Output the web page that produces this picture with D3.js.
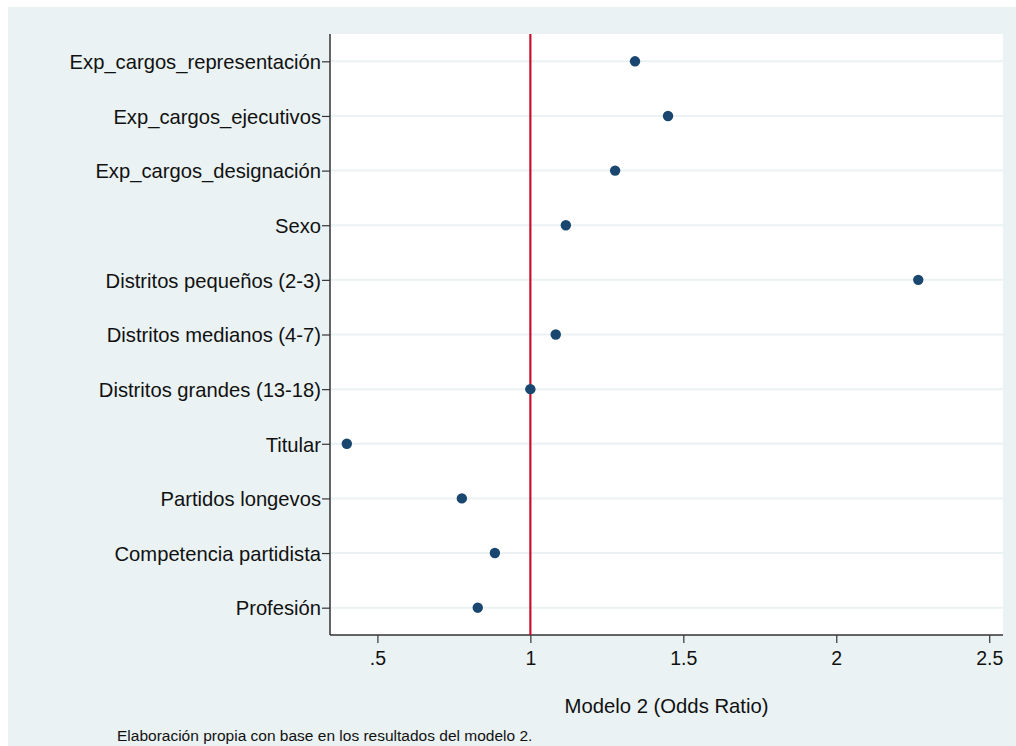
<!DOCTYPE html>
<html>
<head>
<meta charset="utf-8">
<script src="https://cdn.jsdelivr.net/npm/d3@7"></script>
<style>
  body { margin: 0; background: #fff; }
  svg text { font-family: "Liberation Sans", Arial, sans-serif; fill: #111; }
</style>
</head>
<body>
<svg id="chart" width="1016" height="746"></svg>
<script>
// categories, top to bottom
const variables = [
	"Exp_cargos_representación",
	"Exp_cargos_ejecutivos",
	"Exp_cargos_designación",
	"Sexo",
	"Distritos pequeños (2-3)",
	"Distritos medianos (4-7)",
	"Distritos grandes (13-18)",
	"Titular",
	"Partidos longevos",
	"Competencia partidista",
	"Profesión"
];
// odds ratios
const oddsRatios = [1.342, 1.45, 1.277, 1.116, 2.268, 1.083, 1.0, 0.40, 0.776, 0.884, 0.828];
const xTicks = [0.5, 1, 1.5, 2, 2.5];
const xTickLabels = [".5", "1", "1.5", "2", "2.5"];
const refLine = 1;
const xTitle = "Modelo 2 (Odds Ratio)";
const caption = "Elaboración propia con base en los resultados del modelo 2.";

const svg = d3.select("#chart");
const W = 1016, H = 746;

// outer graph region
svg.append("rect")
	.attr("x", 8).attr("y", 7)
	.attr("width", W - 8).attr("height", H - 7)
	.attr("fill", "#eaf2f3");

const plot = {left: 330, right: 1003, top: 34, bottom: 635};

svg.append("rect")
	.attr("x", plot.left).attr("y", plot.top)
	.attr("width", plot.right - plot.left).attr("height", plot.bottom - plot.top)
	.attr("fill", "#fff");

const x = d3.scaleLinear()
	.domain([0.345, 2.545])
	.range([plot.left, plot.right]);

const y = d3.scalePoint()
	.domain(variables)
	.range([plot.top, plot.bottom])
	.padding(0.5);

// grid lines
svg.append("g")
	.selectAll("line")
	.data(variables)
	.join("line")
	.attr("x1", plot.left).attr("x2", plot.right)
	.attr("y1", d => y(d)).attr("y2", d => y(d))
	.attr("stroke", "#eaf2f3")
	.attr("stroke-width", 2);

// y axis
const yAxis = svg.append("g")
	.attr("transform", `translate(${plot.left},0)`)
	.call(d3.axisLeft(y).tickSize(8).tickPadding(1));
yAxis.select(".domain").attr("stroke", "#333").attr("stroke-width", 1.5)
	.attr("d", `M0,${plot.top}V${plot.bottom}`);
yAxis.selectAll(".tick line").attr("stroke", "#333").attr("stroke-width", 1.2);
yAxis.selectAll(".tick text")
	.attr("font-size", 20.2)
	.attr("font-family", "Liberation Sans, Arial, sans-serif")
	.attr("fill", "#111")
	.attr("dy", "0.36em");

// x axis
const xAxis = svg.append("g")
	.attr("transform", `translate(0,${plot.bottom})`)
	.call(d3.axisBottom(x).tickValues(xTicks)
		.tickFormat((d, i) => xTickLabels[i])
		.tickSize(8).tickPadding(8));
xAxis.select(".domain").attr("stroke", "#333").attr("stroke-width", 1.5)
	.attr("d", `M${plot.left},0H${plot.right}`);
xAxis.selectAll(".tick line").attr("stroke", "#333").attr("stroke-width", 1.2);
xAxis.selectAll(".tick text")
	.attr("font-size", 19.5)
	.attr("font-family", "Liberation Sans, Arial, sans-serif")
	.attr("fill", "#111");

// reference line at 1
svg.append("line")
	.attr("x1", x(refLine)).attr("x2", x(refLine))
	.attr("y1", plot.top).attr("y2", plot.bottom)
	.attr("stroke", "#c8102e")
	.attr("stroke-width", 2.2);

// points
svg.append("g")
	.selectAll("circle")
	.data(variables)
	.join("circle")
	.attr("cx", (d, i) => x(oddsRatios[i]))
	.attr("cy", d => y(d))
	.attr("r", 5.2)
	.attr("fill", "#1a476f");

// axis title
svg.append("text")
	.attr("x", (plot.left + plot.right) / 2)
	.attr("y", 713)
	.attr("text-anchor", "middle")
	.attr("font-size", 20.3)
	.text(xTitle);

// note
svg.append("text")
	.attr("x", 117)
	.attr("y", 741)
	.attr("font-size", 15.5)
	.text(caption);
</script>
</body>
</html>
